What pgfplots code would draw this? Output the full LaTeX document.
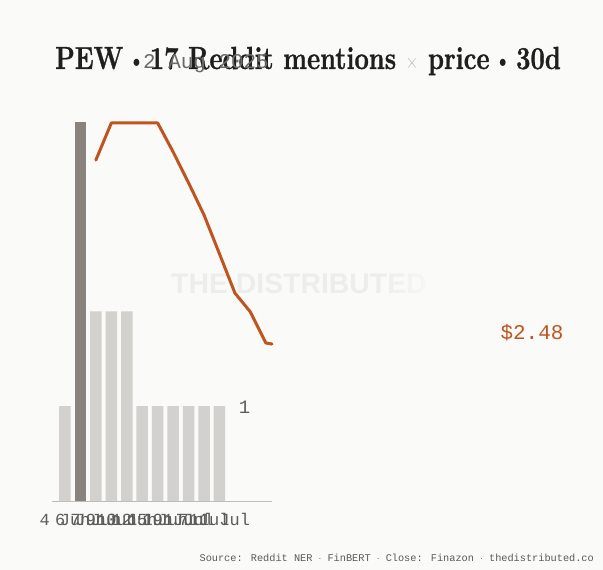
\documentclass[border=0pt]{standalone}
\usepackage{pgfplots}
\pgfplotsset{compat=1.18}
\usepackage{fontspec}
\usetikzlibrary{fadings}
\newfontfamily\monofont{Liberation Mono}
\newfontfamily\wmfont{Liberation Sans}
\newfontfamily\titlefont{Latin Modern Roman}[FakeBold=1.2]
\definecolor{bg}{HTML}{FAFAF8}
\definecolor{barlight}{HTML}{D3D1CD}
\definecolor{bardark}{HTML}{88837C}
\definecolor{lineor}{HTML}{C0541F}
\definecolor{axisgray}{HTML}{BDBCB8}
\definecolor{txtgray}{HTML}{5C5C5C}
\definecolor{wm}{HTML}{EDEDEB}
\tikzfading[name=fadein, left color=transparent!100, right color=transparent!15]
\newcommand{\tdot}{\raisebox{0.12ex}{\scalebox{0.75}{$\bullet$}}}
\begin{document}
\begin{tikzpicture}
\fill[bg] (0bp,0bp) rectangle (603bp,570bp);
\path[use as bounding box] (0bp,0bp) rectangle (603bp,570bp);
% watermark
\node[anchor=base, inner sep=0, text=wm, font=\wmfont\bfseries\fontsize{28.5}{28.5}\selectfont] at (299bp,276bp) {THE DISTRIBUTED};
\fill[bg, path fading=fadein] (378bp,270bp) rectangle (432bp,302bp);
% title
\node[anchor=base, inner sep=0, text=black!88, font=\titlefont\bfseries\fontsize{32}{32}\selectfont] at (308bp,501bp) {\scalebox{0.8}[1]{PEW \tdot{} 17 Reddit mentions {\color{black!25}\mdseries\fontsize{20}{20}\selectfont$\times$} price \tdot{} 30d}};
\node[anchor=base, inner sep=0, text=black!58, font=\monofont\fontsize{21}{21}\selectfont] at (206bp,501bp) {2 Aug 2025};
% bars axis
\begin{axis}[
  name=bars,
  at={(52bp,69bp)}, anchor=south west, scale only axis,
  width=220bp, height=379bp,
  xmin=0.16, xmax=14.4, ymin=0, ymax=4,
  axis x line*=bottom, axis y line=none,
  axis line style={draw=axisgray, line width=1bp, -},
  xtick={1,...,11},
  xticklabels={4 Jun,6 Jun,7 Jun,9 Jun,10 Jun,12 Jun,15 Jun,19 Jun,1 Jul,7 Jul,11 Jul},
  major tick length=0pt,
  ytick=\empty,
  xticklabel style={anchor=base, yshift=-24bp, inner sep=0pt, text=txtgray, font=\monofont\fontsize{17}{17}\selectfont},
  clip=false,
]
\addplot[ybar, bar width=11.5bp, bar shift=0pt, fill=barlight, draw=none] coordinates {
 (1,1) (3,2) (4,2) (5,2) (6,1) (7,1) (8,1) (9,1) (10,1) (11,1)};
\addplot[ybar, bar width=11.5bp, bar shift=0pt, fill=bardark, draw=none] coordinates {(2,4)};
\end{axis}
% price axis
\begin{axis}[
  at={(52bp,69bp)}, anchor=south west, scale only axis,
  width=220bp, height=379bp,
  xmin=0.16, xmax=14.4, ymin=2.0397, ymax=3.1028,
  hide axis, clip=false,
]
\addplot[color=lineor, line width=3bp, line join=round, line cap=round] coordinates {
 (3,2.996) (4,3.10) (5,3.10) (6,3.10) (7,3.10) (8,3.019) (9,2.932) (10,2.842) (11,2.733) (12,2.623) (13,2.570) (14,2.483) (14.4,2.48)};
\end{axis}
\node[anchor=base, inner sep=0, text=txtgray, font=\monofont\fontsize{19}{19}\selectfont] at (244.5bp,156bp) {1};
\node[anchor=base, inner sep=0, text=lineor, font=\monofont\fontsize{21}{21}\selectfont] at (532bp,230bp) {\$2.48};
\node[anchor=base east, inner sep=0, text=black!65, font=\monofont\fontsize{10.3}{10.3}\selectfont] at (594bp,9bp) {Source: Reddit NER $\cdot$ FinBERT $\cdot$ Close: Finazon $\cdot$ thedistributed.co};
\end{tikzpicture}
\end{document}
